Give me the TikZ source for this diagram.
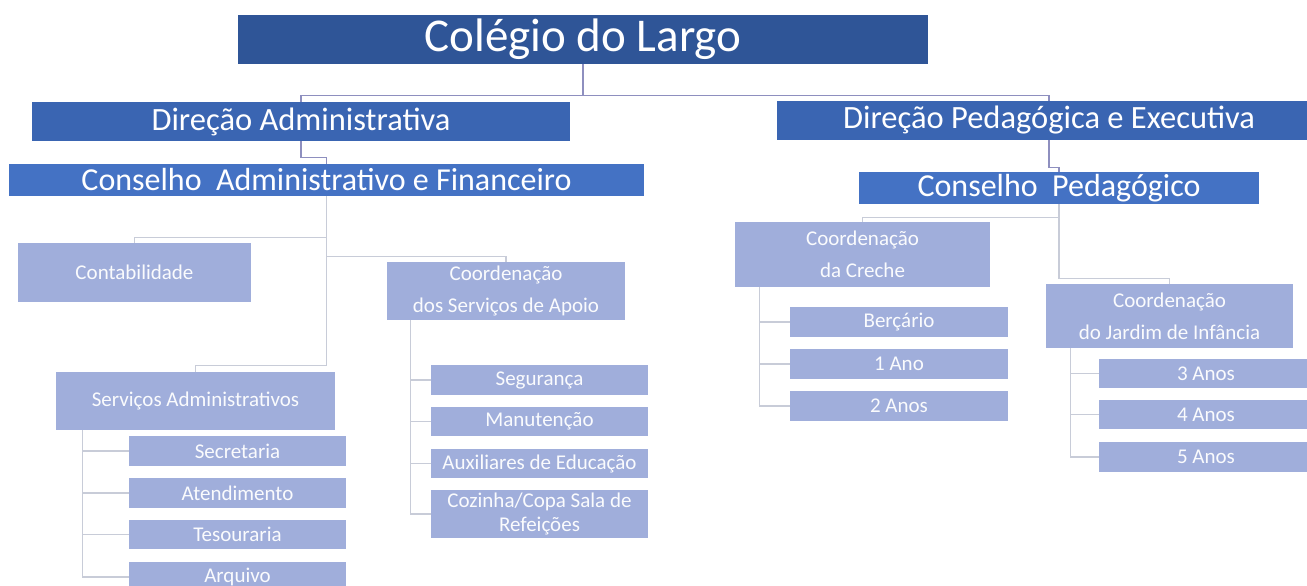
\documentclass[tikz,border=0pt]{standalone}
\usepackage{fontspec}
\setmainfont{Carlito}
\definecolor{topblue}{HTML}{2F5597}
\definecolor{dirblue}{HTML}{3A65B2}
\definecolor{conblue}{HTML}{4472C4}
\definecolor{lightblue}{HTML}{A0AEDB}
\definecolor{upgrey}{HTML}{8E8FBF}
\definecolor{lowgrey}{HTML}{C8CCD8}
\tikzset{
  box/.style={inner sep=0pt,text=white,align=center},
  headbox/.style={box,fill=topblue,font=\fontsize{47}{50}\selectfont},
  dirbox/.style={box,fill=dirblue,font=\fontsize{32.5}{34}\selectfont},
  conbox/.style={box,fill=conblue,font=\fontsize{32}{34}\selectfont},
  unitbox/.style={box,fill=lightblue,text=white!95!lightblue,font=\fontsize{21}{32}\selectfont},
  upline/.style={draw=upgrey,line width=1.1pt},
  lowline/.style={draw=lowgrey,line width=1.3pt}
}
\begin{document}
\begin{tikzpicture}[x=1pt,y=-1pt]
  \clip (0,0) rectangle (1307,586);
  \fill[white] (0,0) rectangle (1307,586);

  % top levels
  \node[headbox,minimum width=690pt,minimum height=49pt] (colegio) at (583,39.5) {Colégio do Largo};
  \node[dirbox,minimum width=538pt,minimum height=39pt] (diradm) at (301,121.5) {Direção Administrativa};
  \node[dirbox,minimum width=544pt,minimum height=39pt] (dirped) at (1049,120.5) {Direção Pedagógica e Executiva};
  \node[conbox,minimum width=635pt,minimum height=32pt] (conadm) at (326.5,180) {Conselho~~Administrativo e Financeiro};
  \node[conbox,minimum width=400pt,minimum height=32pt] (conped) at (1059,188) {Conselho~~Pedagógico};

  % administrative side
  \node[unitbox,minimum width=233pt,minimum height=59pt] (contab) at (134.5,272.5) {Contabilidade};
  \node[unitbox,minimum width=238pt,minimum height=58pt] (apoio) at (506,291) {Coordenação\\dos Serviços de Apoio};
  \node[unitbox,minimum width=279pt,minimum height=58pt] (servadm) at (195.5,401) {Serviços Administrativos};
  \node[unitbox,minimum width=217pt,minimum height=30pt] (secret) at (237.5,451) {Secretaria};
  \node[unitbox,minimum width=217pt,minimum height=30pt] (atend) at (237.5,493) {Atendimento};
  \node[unitbox,minimum width=217pt,minimum height=29pt] (tesour) at (237.5,534.5) {Tesouraria};
  \node[unitbox,minimum width=217pt,minimum height=30pt] (arquivo) at (237.5,577) {Arquivo};
  \node[unitbox,minimum width=217pt,minimum height=30pt] (segur) at (539.5,380) {Segurança};
  \node[unitbox,minimum width=217pt,minimum height=29pt] (manut) at (539.5,421.5) {Manutenção};
  \node[unitbox,minimum width=217pt,minimum height=29pt] (auxil) at (539.5,463.5) {Auxiliares de Educação};
  \node[unitbox,minimum width=217pt,minimum height=48pt,font=\fontsize{21}{24}\selectfont] (cozinha) at (539.5,514) {Cozinha/Copa Sala de\\Refeições};

  % pedagogical side
  \node[unitbox,minimum width=255pt,minimum height=65pt] (creche) at (862.5,254.5) {Coordenação\\da Creche};
  \node[unitbox,minimum width=247pt,minimum height=64pt] (jardim) at (1169.5,316) {Coordenação\\do Jardim de Infância};
  \node[unitbox,minimum width=218pt,minimum height=30pt] (bercario) at (899,322) {Berçário};
  \node[unitbox,minimum width=218pt,minimum height=30pt] (ano1) at (899,364) {1 Ano};
  \node[unitbox,minimum width=218pt,minimum height=30pt] (ano2) at (899,406) {2 Anos};
  \node[unitbox,minimum width=214pt,minimum height=29pt] (anos3) at (1206,373.5) {3 Anos};
  \node[unitbox,minimum width=214pt,minimum height=29pt] (anos4) at (1206,414.5) {4 Anos};
  \node[unitbox,minimum width=214pt,minimum height=30pt] (anos5) at (1206,457) {5 Anos};

  % connectors
  \draw[upline] (colegio.south) -- ++(0,31) -| (diradm.north);
  \draw[upline] (colegio.south) -- ++(0,31) -| (dirped.north);
  \draw[upline] (diradm.south) -- ++(0,16) -| (conadm.north);
  \draw[upline] (dirped.south) -- ++(0,27) -| (conped.north);

  \draw[lowline] (conadm.south) -- ++(0,41) -| (contab.north);
  \draw[lowline] (conadm.south) -- ++(0,60) -| (apoio.north);
  \draw[lowline] (conadm.south) -- ++(0,169) -| (servadm.north);
  \draw[lowline] (conped.south) -- ++(0,13) -| (creche.north);
  \draw[lowline] (conped.south) -- ++(0,74) -| (jardim.north);

  \foreach \n in {secret,atend,tesour,arquivo}
    \draw[lowline] ([xshift=27pt]servadm.south west) |- (\n.west);
  \foreach \n in {segur,manut,auxil,cozinha}
    \draw[lowline] ([xshift=24pt]apoio.south west) |- (\n.west);
  \foreach \n in {bercario,ano1,ano2}
    \draw[lowline] ([xshift=25pt]creche.south west) |- (\n.west);
  \foreach \n in {anos3,anos4,anos5}
    \draw[lowline] ([xshift=25pt]jardim.south west) |- (\n.west);
\end{tikzpicture}
\end{document}
